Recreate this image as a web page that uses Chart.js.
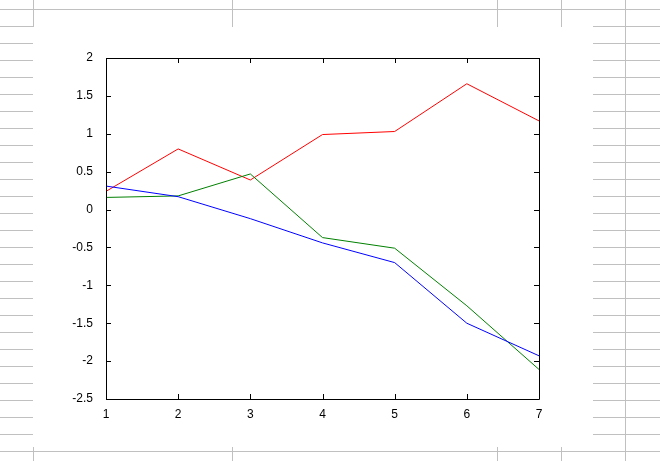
<!DOCTYPE html>
<html>
<head>
<meta charset="utf-8">
<script src="https://cdn.jsdelivr.net/npm/chart.js@4.4.1/dist/chart.umd.min.js"></script>
<style>
  body { margin: 0; background: #fff; }
  #wrap { position: relative; width: 660px; height: 461px; overflow: hidden; }
  .h, .v { position: absolute; background: #c0c0c0; }
  .h { height: 1px; }
  .v { width: 1px; }
  #plot { position: absolute; left: 0; top: 0; }
</style>
</head>
<body>
<div id="wrap">
  <canvas id="plot" width="660" height="461"></canvas>
</div>
<script>
// values
const xValues = [1, 2, 3, 4, 5, 6, 7];
const redValues = [0.24, 0.80, 0.39, 0.99, 1.03, 1.66, 1.17];
const greenValues = [0.16, 0.18, 0.47, -0.37, -0.51, -1.27, -2.11];
const blueValues = [0.31, 0.17, -0.12, -0.44, -0.70, -1.50, -1.93];

// spreadsheet grid behind the figure
const wrap = document.getElementById("wrap")
function line(cls, x, y, len) {
    let d = document.createElement("div")
    d.className = cls
    d.style.left = x + "px"
    d.style.top = y + "px"
    if (cls == "h") d.style.width = len + "px"
    else d.style.height = len + "px"
    wrap.insertBefore(d, wrap.firstChild)
}
line("h", 0, 9, 660)
line("h", 0, 451, 660)
for (let y = 26; y <= 434; y += 17) {
    line("h", 0, y, 33)
    line("h", 593, y, 67)
}
for (const x of [33, 232, 497, 561]) {
    line("v", x, 0, 27)
    line("v", x, 447, 14)
}
line("v", 625, 0, 461)

function points(ys) {
    return xValues.map((x, i) => ({ x: x, y: ys[i] }))
}

// box around the axes and inward ticks, matlab style
const boxTicks = {
    id: "boxTicks",
    afterDraw(chart) {
        const c = chart.ctx, a = chart.chartArea
        const sx = chart.scales.x, sy = chart.scales.y
        c.save()
        c.strokeStyle = "#000"
        c.lineWidth = 1
        c.beginPath()
        c.rect(a.left + 0.5, a.top + 0.5, a.right - a.left, a.bottom - a.top)
        sx.ticks.forEach((t, i) => {
            let px = Math.round(sx.getPixelForTick(i)) + 0.5
            c.moveTo(px, a.bottom); c.lineTo(px, a.bottom - 5)
            c.moveTo(px, a.top); c.lineTo(px, a.top + 5)
        })
        sy.ticks.forEach((t, i) => {
            let py = Math.round(sy.getPixelForTick(i)) + 0.5
            c.moveTo(a.left, py); c.lineTo(a.left + 5, py)
            c.moveTo(a.right, py); c.lineTo(a.right - 5, py)
        })
        c.stroke()
        c.restore()
    }
}

const tickFont = { family: "Liberation Sans", size: 12 }

new Chart("plot", {
    type: "line",
    data: {
        datasets: [
            { data: points(blueValues), borderColor: "#0000ff" },
            { data: points(greenValues), borderColor: "#008000" },
            { data: points(redValues), borderColor: "#ff0000" }
        ]
    },
    options: {
        responsive: false,
        animation: false,
        devicePixelRatio: 1,
        layout: { padding: { left: 0, top: 58, right: 121, bottom: 0 } },
        elements: {
            line: { borderWidth: 1, tension: 0, fill: false },
            point: { radius: 0 }
        },
        plugins: { legend: { display: false }, tooltip: { enabled: false } },
        scales: {
            x: {
                type: "linear",
                min: 1, max: 7,
                afterFit: s => { s.height = 62 },
                grid: { display: false },
                border: { display: false },
                ticks: { stepSize: 1, color: "#000", font: tickFont, padding: 0, maxRotation: 0 }
            },
            y: {
                min: -2.5, max: 2,
                afterFit: s => { s.width = 106 },
                grid: { display: false },
                border: { display: false },
                ticks: { stepSize: 0.5, color: "#000", font: tickFont, padding: 5,
                    callback: v => String(v) }
            }
        }
    },
    plugins: [boxTicks]
});
</script>
</body>
</html>
